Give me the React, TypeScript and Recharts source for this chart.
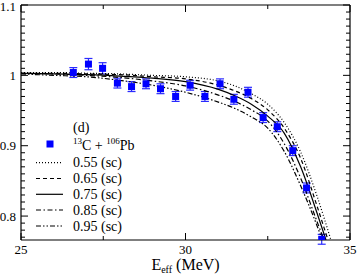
import React from 'react';
import { ComposedChart, Line, Scatter, XAxis, YAxis, ErrorBar, Legend } from 'recharts';

// ---- measured data (13C + 106Pb) ----
const expEnergy = [26.59, 27.05, 27.48, 27.93, 28.36, 28.80, 29.24, 29.70, 30.14, 30.59, 31.05, 31.47, 31.90, 32.36, 32.79, 33.26, 33.68, 34.14];
const expRatio = [1.004, 1.016, 1.010, 0.989, 0.984, 0.988, 0.981, 0.970, 0.986, 0.970, 0.988, 0.966, 0.976, 0.940, 0.927, 0.893, 0.840, 0.767];
const expError = [0.007, 0.008, 0.008, 0.007, 0.007, 0.007, 0.007, 0.007, 0.007, 0.007, 0.007, 0.007, 0.007, 0.007, 0.007, 0.007, 0.007, 0.007];

// ---- calculated curves ----
const curveE055 = [25, 26, 27, 28, 29, 30, 31, 31.5, 32, 32.5, 33, 33.5, 34, 34.42];
const curveV055 = [1.004, 1.004, 1.003, 1.002, 1.0, 0.998, 0.992, 0.985, 0.974, 0.959, 0.933, 0.891, 0.828, 0.766];
const curveE065 = [25, 26, 27, 28, 29, 30, 31, 31.5, 32, 32.5, 33, 33.5, 34, 34.33];
const curveV065 = [1.003, 1.003, 1.002, 1.001, 0.998, 0.995, 0.986, 0.978, 0.967, 0.951, 0.925, 0.882, 0.814, 0.766];
const curveE075 = [25, 26, 27, 28, 29, 30, 31, 31.5, 32, 32.5, 33, 33.5, 34, 34.27];
const curveV075 = [1.003, 1.002, 1.001, 0.999, 0.996, 0.991, 0.980, 0.971, 0.959, 0.942, 0.918, 0.870, 0.804, 0.766];
const curveE085 = [25, 26, 27, 28, 29, 30, 31, 31.5, 32, 32.5, 33, 33.5, 34, 34.21];
const curveV085 = [1.003, 1.002, 1.0, 0.997, 0.992, 0.985, 0.972, 0.963, 0.951, 0.935, 0.903, 0.854, 0.792, 0.766];
const curveE095 = [25, 26, 27, 28, 29, 30, 31, 31.5, 32, 32.5, 33, 33.5, 34, 34.16];
const curveV095 = [1.002, 1.0, 0.998, 0.993, 0.986, 0.976, 0.962, 0.953, 0.941, 0.925, 0.892, 0.843, 0.786, 0.766];

const curveLabels = ['0.55 (sc)', '0.65 (sc)', '0.75 (sc)', '0.85 (sc)', '0.95 (sc)'];
const panelLabel = '(d)';

// ---- axis ticks ----
const xTicks = [25, 27.5, 30, 32.5, 35];
const yTicks = [
  0.77, 0.78, 0.79, 0.8, 0.81, 0.82, 0.83, 0.84, 0.85, 0.86, 0.87, 0.88, 0.89, 0.9,
  0.91, 0.92, 0.93, 0.94, 0.95, 0.96, 0.97, 0.98, 0.99, 1.0,
  1.01, 1.02, 1.03, 1.04, 1.05, 1.06, 1.07, 1.08, 1.09, 1.1,
];

const zip = (xs: number[], ys: number[]) => xs.map((x, i) => ({ x, y: ys[i] }));
const expData = expEnergy.map((x, i) => ({ x, y: expRatio[i], err: expError[i] }));
const curves = [
  zip(curveE055, curveV055),
  zip(curveE065, curveV065),
  zip(curveE075, curveV075),
  zip(curveE085, curveV085),
  zip(curveE095, curveV095),
];
const dashes = ['1 2', '4 3', undefined, '5 2.5 1.5 2.5', '5 2 1.5 2 1.5 2'];

const FONT = 'Liberation Serif, Times New Roman, serif';
const TXT: React.CSSProperties = { fontFamily: FONT };
const BLUE = '#0000ff';
const isMajorY = (v: number) => Math.abs(v * 10 - Math.round(v * 10)) < 1e-6;
const isMajorX = (v: number) => Math.abs(v / 5 - Math.round(v / 5)) < 1e-6;

function BottomTick({ x, y, payload }: any) {
  const major = isMajorX(payload.value);
  return (
    <g>
      <line x1={x} x2={x} y1={y} y2={y - (major ? 7 : 4)} stroke="#000" strokeWidth={1} />
      {major && (
        <text x={x} y={y + 14} textAnchor="middle" fontSize={13} style={TXT} fill="#000">
          {payload.value}
        </text>
      )}
    </g>
  );
}
function TopTick({ x, y, payload }: any) {
  const major = isMajorX(payload.value);
  return <line x1={x} x2={x} y1={y} y2={y + (major ? 7 : 4)} stroke="#000" strokeWidth={1} />;
}
function LeftTick({ x, y, payload }: any) {
  const major = isMajorY(payload.value);
  return (
    <g>
      <line x1={x} x2={x + (major ? 7 : 4)} y1={y} y2={y} stroke="#000" strokeWidth={1} />
      {major && (
        <text x={x - 5} y={Math.max(y + 4.5, 11)} textAnchor="end" fontSize={13} style={TXT} fill="#000">
          {String(payload.value)}
        </text>
      )}
    </g>
  );
}
function RightTick({ x, y, payload }: any) {
  const major = isMajorY(payload.value);
  return <line x1={x} x2={x - (major ? 7 : 4)} y1={y} y2={y} stroke="#000" strokeWidth={1} />;
}

function XTitle(props: any) {
  const vb = props.viewBox || { x: 21, y: 240, width: 329, height: 37 };
  return (
    <text x={vb.x + vb.width / 2} y={vb.y + 30} textAnchor="middle" fontSize={16} style={TXT} fill="#000">
      <tspan>E</tspan>
      <tspan fontSize={10} dy={3}>eff</tspan>
      <tspan dy={-3}> (MeV)</tspan>
    </text>
  );
}

function LegendContent() {
  const rowY = [162.7, 178.5, 194.3, 210, 226];
  return (
    <svg width={357} height={277} style={{ position: 'absolute', left: 0, top: 0, overflow: 'visible' }}>
      <text x={73} y={131.5} fontSize={14} style={TXT} fill="#000">{panelLabel}</text>
      <rect x={46.5} y={140.5} width={7} height={7} fill={BLUE} />
      <text x={73} y={150} fontSize={14} style={TXT} fill="#000">
        <tspan fontSize={9} dy={-6}>13</tspan>
        <tspan dy={6}>C + </tspan>
        <tspan fontSize={9} dy={-6}>106</tspan>
        <tspan dy={6}>Pb</tspan>
      </text>
      {curveLabels.map((lab, i) => (
        <g key={lab}>
          <line x1={36} x2={63} y1={rowY[i]} y2={rowY[i]} stroke="#000" strokeWidth={1.2} strokeDasharray={dashes[i]} />
          <text x={73} y={rowY[i] + 4.5} fontSize={14} style={TXT} fill="#000">{lab}</text>
        </g>
      ))}
    </svg>
  );
}

export default function App() {
  return (
    <div style={{ position: 'absolute', left: 0, top: 0, width: 357, height: 277, background: '#fff' }}>
      <ComposedChart width={357} height={277} margin={{ top: 0, right: 0, bottom: 0, left: 0 }}>
        <XAxis
          xAxisId="b"
          dataKey="x"
          type="number"
          orientation="bottom"
          domain={[25, 35]}
          allowDataOverflow
          ticks={xTicks}
          interval={0}
          tickSize={0}
          tickMargin={0}
          tickLine={false}
          tick={<BottomTick />}
          height={37}
          axisLine={{ stroke: '#000', strokeWidth: 1.2 }}
          label={<XTitle />}
        />
        <XAxis
          xAxisId="t"
          dataKey="x"
          type="number"
          orientation="top"
          domain={[25, 35]}
          allowDataOverflow
          ticks={xTicks}
          interval={0}
          tickSize={0}
          tickMargin={0}
          tickLine={false}
          tick={<TopTick />}
          height={5}
          axisLine={{ stroke: '#000', strokeWidth: 1.2 }}
        />
        <YAxis
          yAxisId="l"
          dataKey="y"
          type="number"
          orientation="left"
          domain={[0.766, 1.1]}
          allowDataOverflow
          ticks={yTicks}
          interval={0}
          tickSize={0}
          tickMargin={0}
          tickLine={false}
          tick={<LeftTick />}
          width={21}
          axisLine={{ stroke: '#000', strokeWidth: 1.2 }}
        />
        <YAxis
          yAxisId="r"
          dataKey="y"
          type="number"
          orientation="right"
          domain={[0.766, 1.1]}
          allowDataOverflow
          ticks={yTicks}
          interval={0}
          tickSize={0}
          tickMargin={0}
          tickLine={false}
          tick={<RightTick />}
          width={7}
          axisLine={{ stroke: '#000', strokeWidth: 1.2 }}
        />
        <Scatter
          xAxisId="b"
          yAxisId="l"
          data={expData}
          dataKey="y"
          isAnimationActive={false}
          fill={BLUE}
          shape={(p: any) => <rect x={p.cx - 3.5} y={p.cy - 3.5} width={7} height={7} fill={BLUE} />}
        >
          <ErrorBar dataKey="err" direction="y" width={4} stroke="#2a2aff" strokeWidth={1.2} isAnimationActive={false} />
        </Scatter>
        {curves.map((d, i) => (
          <Line
            key={i}
            xAxisId="b"
            yAxisId="l"
            data={d}
            dataKey="y"
            type="monotone"
            stroke="#000"
            strokeWidth={1.2}
            strokeDasharray={dashes[i]}
            dot={false}
            activeDot={false}
            isAnimationActive={false}
          />
        ))}
        <Legend
          layout="vertical"
          align="center"
          verticalAlign="middle"
          content={<LegendContent />}
          wrapperStyle={{ position: 'absolute', left: 0, top: 0, width: 357, height: 277, margin: 0, padding: 0, pointerEvents: 'none' }}
        />
      </ComposedChart>
    </div>
  );
}
